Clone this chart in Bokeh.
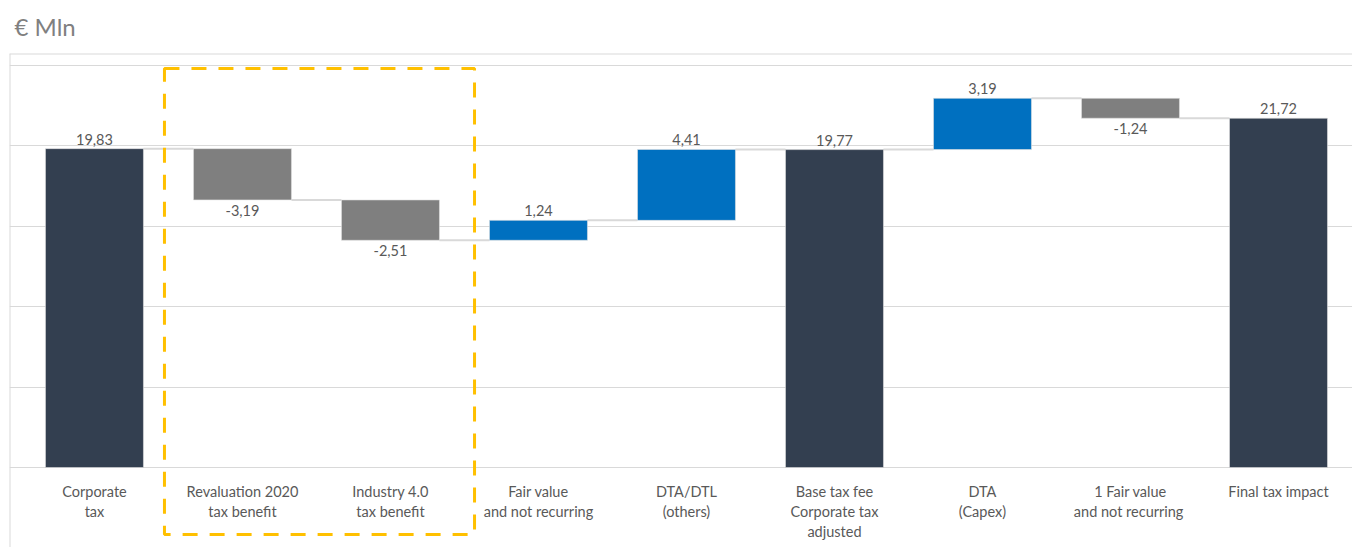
from bokeh.plotting import figure
from bokeh.models import ColumnDataSource, Range1d, Grid, FixedTicker, Span
from bokeh.core.properties import value
from bokeh.embed import file_html
from bokeh.resources import INLINE

# ---- data ----
title_text = "€ Mln"
categories = ["Corporate\ntax", "Revaluation 2020\ntax benefit", "Industry 4.0\ntax benefit",
              "Fair value\nand not recurring", "DTA/DTL\n(others)",
              "Base tax fee\nCorporate tax\nadjusted", "DTA\n(Capex)",
              "1 Fair value\nand  not recurring", "Final tax impact"]
values = [19.83, -3.19, -2.51, 1.24, 4.41, 19.77, 3.19, -1.24, 21.72]
is_total = [True, False, False, False, False, True, False, False, True]
y_ticks = [0, 5, 10, 15, 20, 25]

# ---- styles ----
C_TOTAL, C_NEG, C_POS = "#333F50", "#7F7F7F", "#0070C0"
FONT = "Lato"
TXT = "#595959"
BAR_W = 0.662
X0, X1, Y0, Y1 = -0.574, 8.5, -4.975, 25.746

xs, bottoms, tops, colors, labels, lab_y, lab_base = [], [], [], [], [], [], []
running = 0.0
levels = []
for i, (v, t) in enumerate(zip(values, is_total)):
    if t:
        b, tp = 0.0, v
        running = v
        col = C_TOTAL
    else:
        start, end = running, running + v
        b, tp = min(start, end), max(start, end)
        running = end
        col = C_POS if v >= 0 else C_NEG
    xs.append(i)
    bottoms.append(b)
    tops.append(tp)
    colors.append(col)
    labels.append(f"{v:.2f}".replace(".", ","))
    if v >= 0:
        lab_y.append(tp)
        lab_base.append("bottom")
    else:
        lab_y.append(b)
        lab_base.append("top")
    levels.append(running)

src = ColumnDataSource(dict(x=xs, bottom=bottoms, top=tops, color=colors))

p = figure(width=1352, height=547, output_backend="svg", toolbar_location=None,
           x_range=Range1d(X0, X1), y_range=Range1d(Y0, Y1),
           x_axis_location=None, y_axis_location=None,
           min_border_left=9, min_border_right=0, min_border_top=53, min_border_bottom=0,
           title=title_text)
p.title.text_font = FONT
p.title.text_font_size = "24px"
p.title.text_font_style = "normal"
p.title.text_color = "#808080"
p.title.offset = 5
p.title.standoff = 22
p.title.vertical_align = "top"
p.outline_line_color = None
p.background_fill_color = "white"
p.border_fill_color = "white"
p.grid.visible = False
p.add_layout(Grid(dimension=1, ticker=FixedTicker(ticks=y_ticks),
                  grid_line_color="#d9d9d9", grid_line_width=1.2))
p.add_layout(Span(location=X0, dimension="height", line_color="#d9d9d9", line_width=2))
p.add_layout(Span(location=Y1, dimension="width", line_color="#d9d9d9", line_width=2))

# connectors
cx0 = [i + BAR_W / 2 for i in range(len(values) - 1)]
cx1 = [i + 1 - BAR_W / 2 for i in range(len(values) - 1)]
p.segment(x0=cx0, x1=cx1, y0=levels[:-1], y1=levels[:-1], line_color="#d9d9d9", line_width=2)

p.vbar(x="x", bottom="bottom", top="top", width=BAR_W, fill_color="color",
       line_color="#e0e0e0", line_width=0.6, source=src)

# value labels
pos_idx = [i for i, b in enumerate(lab_base) if b == "bottom"]
neg_idx = [i for i, b in enumerate(lab_base) if b == "top"]
p.text(x=[xs[i] for i in pos_idx], y=[lab_y[i] for i in pos_idx], text=[labels[i] for i in pos_idx],
       text_font=value(FONT), text_font_size="14.5px", text_color=TXT,
       text_align="center", text_baseline="bottom", y_offset=-4)
p.text(x=[xs[i] for i in neg_idx], y=[lab_y[i] for i in neg_idx], text=[labels[i] for i in neg_idx],
       text_font=value(FONT), text_font_size="14.5px", text_color=TXT,
       text_align="center", text_baseline="top", y_offset=5)

# category labels
p.text(x=xs, y=[0] * len(xs), text=categories, text_font=value(FONT), text_font_size="14.5px",
       text_color=TXT, text_align="center", text_baseline="top", y_offset=15,
       text_line_height=1.2)

# highlight box
p.quad(left=0.473, right=2.568, top=24.81, bottom=-4.17, fill_alpha=0,
       line_color="#FFC000", line_width=3, line_dash="15 12")

open("out.html", "w").write(file_html(p, INLINE))
